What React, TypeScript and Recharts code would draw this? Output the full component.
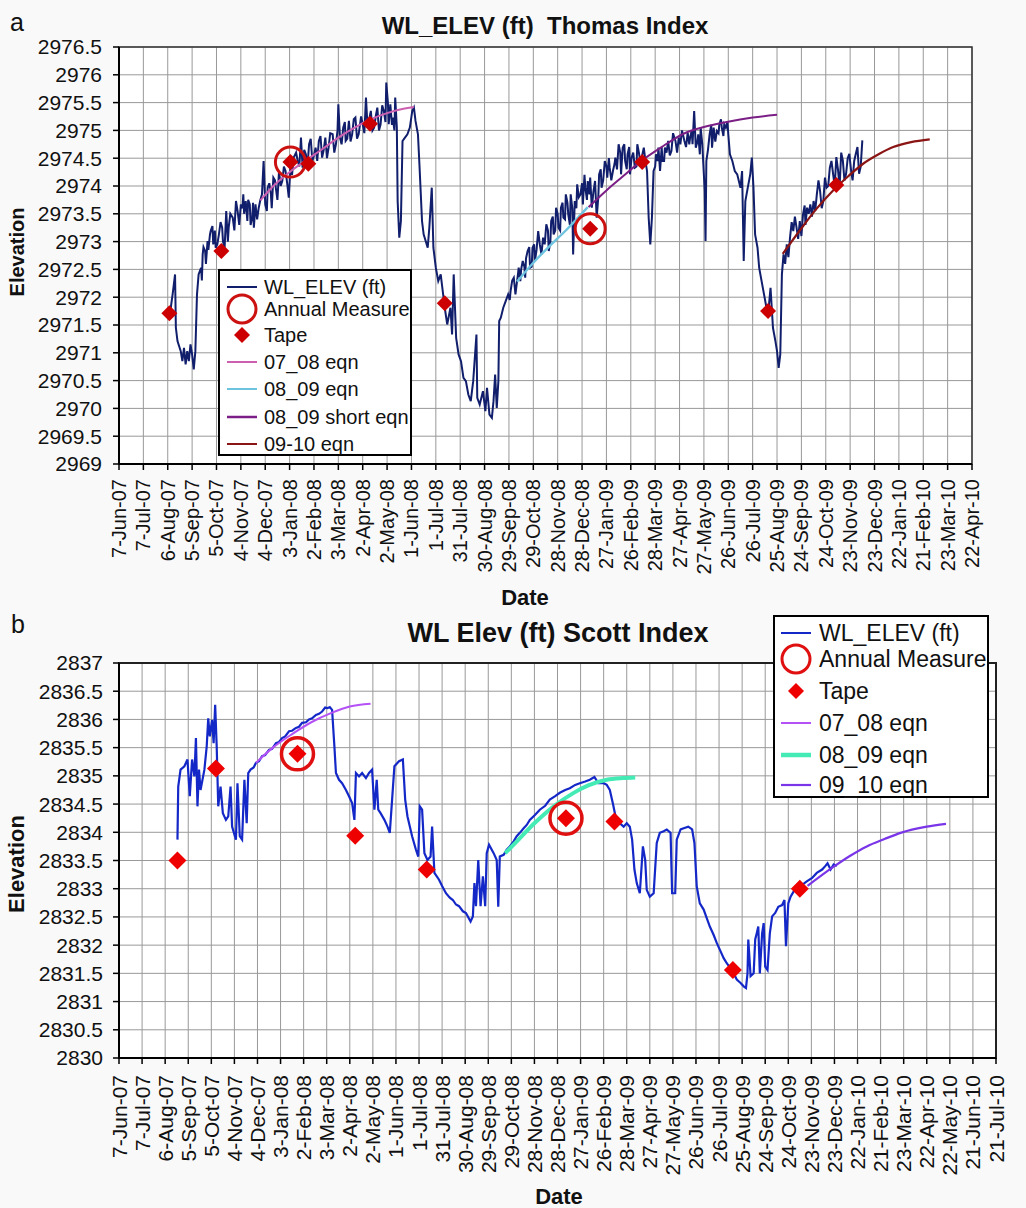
import React from "react";
import { ComposedChart, Line, Scatter, XAxis, YAxis, CartesianGrid, ReferenceArea } from "recharts";

const FONT = "'Liberation Sans', Arial, sans-serif";

// x = days since 7-Jun-07, ticks every 30 days (Excel date axis)
const dateLabels = [
  "7-Jun-07", "7-Jul-07", "6-Aug-07", "5-Sep-07", "5-Oct-07", "4-Nov-07", "4-Dec-07", "3-Jan-08",
  "2-Feb-08", "3-Mar-08", "2-Apr-08", "2-May-08", "1-Jun-08", "1-Jul-08", "31-Jul-08", "30-Aug-08",
  "29-Sep-08", "29-Oct-08", "28-Nov-08", "28-Dec-08", "27-Jan-09", "26-Feb-09", "28-Mar-09", "27-Apr-09",
  "27-May-09", "26-Jun-09", "26-Jul-09", "25-Aug-09", "24-Sep-09", "24-Oct-09", "23-Nov-09", "23-Dec-09",
  "22-Jan-10", "21-Feb-10", "23-Mar-10", "22-Apr-10", "22-May-10", "21-Jun-10", "21-Jul-10",
];
const dayTicksA = dateLabels.slice(0, 36).map((_, i) => i * 30);
const dayTicksB = dateLabels.map((_, i) => i * 30);
const elevTicksA = [2969, 2969.5, 2970, 2970.5, 2971, 2971.5, 2972, 2972.5, 2973, 2973.5, 2974, 2974.5, 2975, 2975.5, 2976, 2976.5];
const elevTicksB = [2830, 2830.5, 2831, 2831.5, 2832, 2832.5, 2833, 2833.5, 2834, 2834.5, 2835, 2835.5, 2836, 2836.5, 2837];

// ---- (a) Thomas Index ----
const thomasLevel: [number, number][] = [
  [62, 2971.63], [66, 2972.05], [69, 2972.41], [70, 2971.45], [72, 2971.21], [76, 2971.03], [78, 2970.85], [80, 2971.09],
  [82, 2970.79], [84, 2971.03], [86, 2970.85], [88, 2971.15], [90, 2970.97], [92, 2970.7], [94, 2971.03], [96, 2972.05],
  [98, 2972.41], [101, 2972.53], [103, 2972.77], [106, 2972.83], [109, 2973.01], [112, 2973.13], [115, 2973.28], [117, 2973.01],
  [119, 2972.89], [123, 2973.13], [127, 2973.25], [130, 2972.89], [132, 2973.55], [135, 2973.25], [140, 2973.43], [144, 2973.73],
  [146, 2973.55], [150, 2973.67], [153, 2973.85], [156, 2973.73], [158, 2973.37], [161, 2973.67], [164, 2973.43], [166, 2973.25],
  [168, 2973.67], [172, 2973.61], [176, 2973.85], [178, 2974.45], [180, 2973.67], [183, 2973.97], [187, 2973.85], [190, 2974.15],
  [193, 2973.97], [197, 2974.27], [201, 2974.09], [205, 2974.27], [209, 2973.79], [211, 2974.33], [215, 2974.51], [220, 2974.45],
  [224, 2974.87], [226, 2974.33], [230, 2974.57], [234, 2974.75], [238, 2974.45], [242, 2974.69], [246, 2974.81], [250, 2974.51],
  [254, 2974.87], [258, 2974.69], [263, 2974.93], [267, 2974.75], [270, 2975.47], [272, 2974.87], [276, 2975.05], [279, 2974.81],
  [283, 2975.17], [287, 2974.93], [291, 2975.23], [295, 2974.93], [300, 2975.11], [304, 2975.59], [306, 2975.05], [310, 2975.35],
  [314, 2975.05], [318, 2975.41], [322, 2975.11], [326, 2975.35], [329, 2975.86], [332, 2975.11], [334, 2975.47], [337, 2975.23],
  [340, 2975.59], [342, 2975.05], [343, 2973.73], [345, 2973.07], [347, 2973.37], [349, 2974.81], [352, 2974.87], [355, 2974.93],
  [358, 2975.05], [361, 2975.35], [363, 2975.41], [365, 2975.17], [368, 2974.93], [370, 2974.33], [373, 2973.37], [375, 2973.13],
  [380, 2972.89], [382, 2973.25], [385, 2973.97], [387, 2972.89], [390, 2972.53], [393, 2972.29], [396, 2972.41], [399, 2972.05],
  [401, 2971.81], [404, 2971.51], [408, 2971.81], [410, 2971.33], [412, 2972.41], [415, 2971.27], [418, 2970.97], [421, 2970.85],
  [424, 2970.55], [427, 2970.49], [430, 2970.25], [433, 2970.13], [436, 2970.49], [440, 2971.33], [441, 2970.19], [444, 2970.07],
  [448, 2970.31], [451, 2969.95], [453, 2970.37], [456, 2969.89], [459, 2969.83], [461, 2970.13], [463, 2970.61], [465, 2970.01],
  [467, 2970.49], [468, 2971.57], [470, 2971.63], [473, 2971.81], [476, 2971.93], [479, 2972.05], [482, 2972.11], [486, 2972.35],
  [489, 2972.17], [492, 2972.53], [494, 2972.29], [497, 2972.65], [500, 2972.35], [503, 2972.83], [506, 2972.53], [509, 2972.89],
  [512, 2972.65], [516, 2973.19], [520, 2972.77], [522, 2973.07], [526, 2973.31], [529, 2972.83], [532, 2973.37], [535, 2973.13],
  [538, 2973.61], [541, 2973.25], [544, 2973.61], [547, 2973.43], [550, 2973.85], [553, 2973.49], [556, 2973.85], [559, 2972.77],
  [561, 2973.73], [564, 2974.03], [568, 2973.85], [571, 2973.67], [574, 2973.97], [577, 2974.09], [580, 2974.15], [582, 2973.61],
  [586, 2974.09], [588, 2973.43], [591, 2974.21], [594, 2973.97], [598, 2974.45], [601, 2974.15], [604, 2974.33], [608, 2974.27],
  [611, 2974.51], [615, 2974.75], [618, 2974.21], [620, 2974.69], [623, 2974.45], [626, 2974.57], [629, 2974.21], [631, 2974.51],
  [635, 2974.33], [638, 2974.75], [642, 2974.39], [646, 2974.69], [650, 2974.27], [652, 2973.43], [654, 2972.95], [656, 2973.43],
  [658, 2974.27], [661, 2974.57], [664, 2974.69], [666, 2974.27], [669, 2974.45], [672, 2974.69], [676, 2974.81], [680, 2974.63],
  [685, 2974.81], [689, 2974.87], [691, 2974.75], [696, 2974.81], [700, 2974.96], [703, 2974.87], [706, 2974.75], [708, 2975.35],
  [710, 2974.69], [713, 2974.93], [715, 2974.57], [718, 2974.75], [721, 2973.91], [722, 2973.01], [723, 2974.45], [727, 2974.93],
  [730, 2974.69], [732, 2975.05], [736, 2974.99], [739, 2975.11], [742, 2975.05], [745, 2975.11], [747, 2975.05], [750, 2974.93],
  [752, 2974.57], [755, 2974.45], [758, 2974.27], [761, 2974.21], [765, 2973.97], [767, 2974.27], [769, 2972.65], [771, 2973.73],
  [774, 2973.97], [777, 2974.21], [779, 2974.51], [781, 2973.97], [783, 2973.13], [786, 2972.89], [788, 2972.53], [791, 2972.29],
  [794, 2972.05], [797, 2971.81], [799, 2971.69], [802, 2972.17], [805, 2971.45], [808, 2971.21], [810, 2971.03], [812, 2970.73],
  [814, 2970.97], [816, 2972.41], [818, 2972.77], [822, 2972.95], [824, 2972.72], [826, 2973.07], [828, 2973.35], [830, 2973.19],
  [834, 2973.25], [836, 2973.05], [838, 2973.37], [842, 2973.49], [845, 2973.3], [847, 2973.61], [851, 2973.67], [853, 2973.45],
  [855, 2973.73], [859, 2973.85], [863, 2973.91], [867, 2973.73], [871, 2973.97], [875, 2974.33], [879, 2974.22], [883, 2974.52],
  [887, 2973.98], [891, 2974.46], [895, 2974.22], [899, 2974.58], [903, 2974.1], [907, 2974.58], [911, 2974.22], [915, 2974.82],
];
const thomasFuzz: [number, number][] = [
  [102, 2972.3], [104, 2972.9], [107, 2972.6], [110, 2972.85], [113, 2973.2], [116, 2972.95], [118, 2973.2], [121, 2972.95],
  [125, 2973.35], [128, 2973.0], [134, 2973.0], [137, 2973.5], [142, 2973.2], [148, 2973.3], [152, 2973.6], [154, 2973.5],
  [159, 2973.75], [162, 2973.3], [165, 2973.7], [170, 2973.4], [174, 2973.75], [182, 2973.55], [185, 2974.05], [188, 2973.6],
  [192, 2974.1], [195, 2973.75], [199, 2974.0], [203, 2974.35], [207, 2974.05], [213, 2974.2], [218, 2974.6], [222, 2974.35],
  [228, 2974.65], [232, 2974.35], [236, 2974.85], [240, 2974.55], [244, 2974.45], [248, 2974.9], [252, 2974.65], [256, 2974.5],
  [260, 2974.95], [265, 2974.6], [269, 2975.0], [274, 2974.75], [278, 2975.15], [281, 2974.85], [285, 2974.8], [289, 2975.2],
  [293, 2974.85], [298, 2975.25], [302, 2974.95], [308, 2975.2], [312, 2975.0], [316, 2975.25], [320, 2975.0], [324, 2975.45],
  [328, 2975.15], [331, 2975.5], [336, 2975.1], [339, 2975.0], [481, 2971.95], [484, 2972.3], [488, 2972.05], [491, 2972.4],
  [495, 2972.5], [499, 2972.55], [501, 2972.7], [505, 2972.9], [508, 2972.55], [511, 2972.95], [514, 2972.85], [518, 2972.95],
  [524, 2972.95], [528, 2973.2], [531, 2973.0], [534, 2973.45], [537, 2973.2], [540, 2973.5], [543, 2973.2], [546, 2973.7],
  [549, 2973.4], [552, 2973.7], [555, 2973.3], [558, 2973.6], [563, 2973.6], [566, 2973.8], [570, 2974.05], [573, 2974.2],
  [576, 2973.75], [579, 2973.85], [584, 2973.9], [590, 2973.8], [593, 2974.3], [596, 2974.1], [600, 2974.35], [603, 2974.5],
  [606, 2974.1], [610, 2974.4], [613, 2974.3], [617, 2974.6], [622, 2974.75], [625, 2974.3], [628, 2974.7], [633, 2974.6],
  [637, 2974.35], [640, 2974.6], [644, 2974.55], [648, 2974.45], [660, 2974.35], [663, 2974.45], [668, 2974.7], [671, 2974.45],
  [674, 2974.6], [678, 2974.55], [682, 2974.95], [687, 2974.6], [693, 2975.0], [698, 2974.7], [702, 2974.75], [705, 2975.0],
  [712, 2974.8], [716, 2975.05], [725, 2974.65], [729, 2975.1], [734, 2974.8], [738, 2974.95], [741, 2975.2], [744, 2974.9],
  [749, 2975.15], [820, 2972.6], [832, 2973.45], [840, 2973.1], [844, 2973.65], [849, 2973.5], [857, 2973.55], [861, 2974.1],
  [865, 2973.6], [869, 2974.15], [873, 2974.0], [877, 2974.45], [881, 2974.0], [885, 2974.3], [889, 2974.6], [893, 2974.1],
  [897, 2974.5], [901, 2974.3], [905, 2974.45], [909, 2974.7], [913, 2974.35],
];
const thomasTape: [number, number][] = [
  [62, 2971.71], [126, 2972.83], [211, 2974.43], [233, 2974.4], [309, 2975.12],
  [401, 2971.89], [580, 2973.23], [644, 2974.43], [799, 2971.75], [883, 2974.02],
];
const thomasAnnual: [number, number][] = [[211, 2974.43], [580, 2973.23]];
const thomasEq0708: [number, number][] = [
  [174, 2973.74], [190, 2974.0], [210, 2974.25], [230, 2974.46], [250, 2974.66], [270, 2974.87],
  [290, 2975.05], [310, 2975.2], [330, 2975.31], [350, 2975.39], [363, 2975.42],
];
const thomasEq0809: [number, number][] = [[490, 2972.28], [510, 2972.62], [530, 2972.92], [550, 2973.2], [577, 2973.62]];
const thomasEq0809short: [number, number][] = [
  [578, 2973.62], [600, 2973.92], [620, 2974.17], [641, 2974.43], [670, 2974.72], [695, 2974.94],
  [720, 2975.06], [748, 2975.15], [780, 2975.23], [810, 2975.28],
];
const thomasEq0910: [number, number][] = [
  [817, 2972.78], [838, 2973.2], [858, 2973.58], [879, 2973.92], [898, 2974.18], [916, 2974.4],
  [935, 2974.57], [953, 2974.7], [975, 2974.79], [998, 2974.84],
];

// ---- (b) Scott Index ----
const scottLevel: [number, number][] = [
  [76, 2833.87], [77, 2834.81], [80, 2835.11], [85, 2835.17], [89, 2835.29], [92, 2834.64], [95, 2835.29], [98, 2834.99],
  [100, 2835.67], [102, 2834.46], [104, 2835.11], [106, 2834.75], [111, 2835.11], [114, 2835.52], [116, 2836.02], [118, 2835.7],
  [121, 2835.99], [123, 2835.58], [125, 2836.26], [127, 2835.52], [129, 2834.46], [132, 2834.81], [135, 2834.34], [139, 2834.22],
  [142, 2834.28], [145, 2834.81], [147, 2834.1], [152, 2833.87], [154, 2834.87], [157, 2833.93], [160, 2833.87], [163, 2834.93],
  [166, 2834.16], [168, 2835.05], [171, 2835.11], [175, 2835.15], [178, 2835.23], [182, 2835.26], [186, 2835.35], [190, 2835.37],
  [195, 2835.46], [199, 2835.48], [204, 2835.58], [208, 2835.6], [212, 2835.67], [216, 2835.7], [221, 2835.79], [225, 2835.8],
  [230, 2835.85], [234, 2835.87], [238, 2835.94], [243, 2835.95], [247, 2836.0], [251, 2836.02], [256, 2836.08], [260, 2836.1],
  [264, 2836.14], [268, 2836.21], [271, 2836.2], [274, 2836.22], [277, 2836.17],
  [280, 2835.52], [282, 2835.05], [286, 2834.93], [290, 2834.87], [295, 2834.75], [299, 2834.64], [303, 2834.52], [306, 2834.22],
  [308, 2835.05], [312, 2834.99], [316, 2835.05], [321, 2834.96], [325, 2835.05], [329, 2835.11], [332, 2834.4], [335, 2834.93],
  [337, 2834.4], [340, 2834.34], [345, 2834.22], [349, 2834.1], [352, 2833.99], [355, 2834.58], [358, 2835.17], [364, 2835.26],
  [369, 2835.29], [372, 2834.58], [375, 2834.28], [381, 2833.93], [386, 2833.69], [389, 2833.57], [391, 2834.46], [394, 2834.4],
  [397, 2833.63], [401, 2833.51], [405, 2833.57], [407, 2834.1], [410, 2833.28], [416, 2833.16], [420, 2833.05], [425, 2832.92],
  [430, 2832.84], [434, 2832.8], [438, 2832.72], [442, 2832.69], [447, 2832.6], [451, 2832.57], [457, 2832.42], [460, 2832.51],
  [462, 2833.1], [464, 2832.69], [467, 2833.51], [470, 2832.69],
  [473, 2833.22], [476, 2832.69], [478, 2833.63], [481, 2833.78], [487, 2833.63], [491, 2833.51], [493, 2832.68], [495, 2833.57],
  [500, 2833.6], [504, 2833.69], [508, 2833.75], [513, 2833.84], [517, 2833.93], [521, 2833.99], [526, 2834.07], [530, 2834.13],
  [534, 2834.22], [541, 2834.31], [547, 2834.4], [554, 2834.47], [560, 2834.58], [567, 2834.64], [573, 2834.7], [580, 2834.75],
  [586, 2834.78], [593, 2834.84], [599, 2834.87], [606, 2834.9], [612, 2834.93], [618, 2834.98], [623, 2834.87], [630, 2834.87],
  [634, 2834.84], [638, 2834.75], [642, 2834.51], [645, 2834.31], [651, 2834.16], [656, 2834.1], [660, 2834.16], [664, 2834.1],
  [667, 2833.87], [670, 2833.34], [673, 2833.1], [677, 2832.92], [681, 2833.75], [684, 2833.51], [686, 2832.98], [690, 2832.86],
  [695, 2832.92], [699, 2833.81], [703, 2833.99], [708, 2834.02], [712, 2834.05], [717, 2833.99], [719, 2832.92], [723, 2832.92],
  [725, 2833.87], [730, 2834.05], [734, 2834.07], [740, 2834.1], [745, 2834.05], [748, 2833.81], [751, 2833.04], [755, 2832.74],
  [760, 2832.63], [764, 2832.48], [768, 2832.33], [773, 2832.18], [777, 2832.04], [782, 2831.89], [786, 2831.77], [790, 2831.68],
  [795, 2831.59], [799, 2831.5], [803, 2831.39], [808, 2831.33], [812, 2831.27], [815, 2831.24], [817, 2831.5], [818, 2832.1],
  [821, 2831.45], [825, 2831.5], [827, 2832.1], [829, 2832.21], [831, 2832.33], [833, 2831.5], [836, 2832.21], [838, 2832.39],
  [840, 2831.62], [843, 2831.56], [846, 2832.21], [849, 2832.51], [853, 2832.57], [857, 2832.68], [862, 2832.71], [865, 2832.8],
  [867, 2831.98], [870, 2832.74], [873, 2832.86], [877, 2832.95], [881, 2833.01], [888, 2833.07], [894, 2833.13], [901, 2833.19],
  [907, 2833.28], [914, 2833.34], [918, 2833.4], [921, 2833.45], [925, 2833.34], [929, 2833.43], [933, 2833.4],
];
const scottTape: [number, number][] = [
  [76, 2833.5], [126, 2835.13], [232, 2835.39], [307, 2833.94], [400, 2833.34],
  [581, 2834.25], [644, 2834.19], [798, 2831.56], [885, 2833.0],
];
const scottAnnual: [number, number][] = [[232, 2835.39], [581, 2834.25]];
const scottEq0708: [number, number][] = [[178, 2835.23], [200, 2835.5], [225, 2835.74], [250, 2835.95], [277, 2836.12], [300, 2836.23], [327, 2836.28]];
const scottEq0809: [number, number][] = [
  [502, 2833.63], [520, 2833.88], [540, 2834.16], [569, 2834.5], [590, 2834.69], [610, 2834.83], [634, 2834.93], [655, 2834.96], [671, 2834.97],
];
const scottEq0910: [number, number][] = [
  [895, 2833.05], [929, 2833.39], [950, 2833.58], [972, 2833.75], [995, 2833.88], [1016, 2833.99], [1050, 2834.1], [1075, 2834.15],
];

const pts = (a: [number, number][]) => a.map(([d, v]) => ({ d, v }));
const merged = (...lists: [number, number][][]) => pts(lists.flat().sort((p, q) => p[0] - q[0]));

function DateTick(props: any) {
  const { x, y, payload, size } = props;
  const label = dateLabels[Math.round(payload.value / 30)];
  return (
    <text x={x} y={y} transform={`rotate(-90 ${x} ${y})`} textAnchor="end" dominantBaseline="central"
      fontSize={size} fill="#111" fontFamily={FONT}>{label}</text>
  );
}

const diamond = (color: string, r: number) => (p: any) => (
  <polygon points={`${p.cx},${p.cy - r} ${p.cx + r},${p.cy} ${p.cx},${p.cy + r} ${p.cx - r},${p.cy}`} fill={color} />
);
const ring = (color: string, r: number, w: number) => (p: any) => (
  <circle cx={p.cx} cy={p.cy} r={r} fill="none" stroke={color} strokeWidth={w} />
);

type Entry = { label: string; kind: "line" | "ring" | "diamond"; color: string; w?: number; y: number };

function LegendBox({ left, top, width, height, entries, fontSize, textLeft, iconX }: {
  left: number; top: number; width: number; height: number; entries: Entry[]; fontSize: number; textLeft: number; iconX: number;
}) {
  return (
    <div style={{ position: "absolute", left, top, width, height, border: "2px solid #000", background: "#fff", boxSizing: "border-box" }}>
      {entries.map((e) => (
        <div key={e.label} style={{ position: "absolute", left: 0, top: e.y - 16, height: 32, width: "100%" }}>
          <svg width={textLeft} height={32} style={{ position: "absolute", left: 0, top: 0 }}>
            {e.kind === "line" && <line x1={iconX - 15} x2={iconX + 15} y1={16} y2={16} stroke={e.color} strokeWidth={e.w ?? 2} />}
            {e.kind === "ring" && <circle cx={iconX} cy={16} r={14} fill="none" stroke={e.color} strokeWidth={3} />}
            {e.kind === "diamond" && <polygon points={`${iconX},8 ${iconX + 8},16 ${iconX},24 ${iconX - 8},16`} fill={e.color} />}
          </svg>
          <span style={{ position: "absolute", left: textLeft, top: 16, transform: "translateY(-50%)", fontSize, fontFamily: FONT, color: "#111", whiteSpace: "nowrap", lineHeight: 1 }}>{e.label}</span>
        </div>
      ))}
    </div>
  );
}

const text = (s: React.CSSProperties) => ({ position: "absolute" as const, fontFamily: FONT, color: "#111", whiteSpace: "nowrap" as const, transform: "translate(-50%, -50%)", lineHeight: 1, ...s });

const A = { trace: "#111e6c", tape: "#cc0000", ring: "#cc1111", e0708: "#cc5fb0", e0809: "#6ec3df", e0809s: "#7b1f86", e0910: "#8b1414" };
const B = { trace: "#1428c8", tape: "#ee0000", ring: "#e01010", e0708: "#b552f5", e0809: "#45ebb5", e0910: "#7a35e8" };

export default function App() {
  return (
    <div style={{ position: "absolute", left: 0, top: 0, width: 1026, height: 1208, background: "#f9f9f9", overflow: "hidden" }}>
      {/* panel a */}
      <div style={{ position: "absolute", left: 0, top: 0 }}>
        <ComposedChart width={1026} height={620} margin={{ top: 47, right: 54, bottom: 0, left: 0 }}>
          <CartesianGrid stroke="#999" fill="#fff" horizontal vertical />
          <XAxis dataKey="d" type="number" domain={[0, 1050]} ticks={dayTicksA} interval={0} allowDataOverflow height={156}
            tickSize={6} tickMargin={9} axisLine={{ stroke: "#000", strokeWidth: 2 }} tickLine={{ stroke: "#000", strokeWidth: 1.5 }}
            tick={(p: any) => <DateTick {...p} size={20} />} />
          <YAxis type="number" domain={[2969, 2976.5]} ticks={elevTicksA} interval={0} allowDataOverflow width={119}
            tickSize={6} tickMargin={11} axisLine={{ stroke: "#000", strokeWidth: 2 }} tickLine={{ stroke: "#000", strokeWidth: 1.5 }}
            tick={{ fontSize: 21, fill: "#111", fontFamily: FONT }} />
          <ReferenceArea x1={0} x2={1050} y1={2969} y2={2976.5} fill="none" stroke="#333" strokeWidth={1.5} />
          <Line data={merged(thomasLevel, thomasFuzz)} dataKey="v" type="linear" stroke={A.trace} strokeWidth={2} dot={false} isAnimationActive={false} />
          <Line data={pts(thomasEq0708)} dataKey="v" type="monotone" stroke={A.e0708} strokeWidth={2} dot={false} isAnimationActive={false} />
          <Line data={pts(thomasEq0809)} dataKey="v" type="monotone" stroke={A.e0809} strokeWidth={2.4} dot={false} isAnimationActive={false} />
          <Line data={pts(thomasEq0809short)} dataKey="v" type="monotone" stroke={A.e0809s} strokeWidth={2} dot={false} isAnimationActive={false} />
          <Line data={pts(thomasEq0910)} dataKey="v" type="monotone" stroke={A.e0910} strokeWidth={2.2} dot={false} isAnimationActive={false} />
          <Scatter data={pts(thomasAnnual)} dataKey="v" shape={ring(A.ring, 15, 3)} isAnimationActive={false} />
          <Scatter data={pts(thomasTape)} dataKey="v" shape={diamond(A.tape, 8)} isAnimationActive={false} />
        </ComposedChart>
      </div>
      <div style={text({ left: 17, top: 22, fontSize: 25 })}>a</div>
      <div style={text({ left: 545, top: 26, fontSize: 24, fontWeight: 700 })}>WL_ELEV (ft)&nbsp; Thomas Index</div>
      <div style={text({ left: 17, top: 252, fontSize: 20, fontWeight: 700, transform: "translate(-50%, -50%) rotate(-90deg)" })}>Elevation</div>
      <div style={text({ left: 525, top: 598, fontSize: 22, fontWeight: 700 })}>Date</div>
      <LegendBox left={218} top={269} width={194} height={187} fontSize={20} textLeft={44} iconX={22} entries={[
        { label: "WL_ELEV (ft)", kind: "line", color: A.trace, y: 16 },
        { label: "Annual Measure", kind: "ring", color: A.ring, y: 38 },
        { label: "Tape", kind: "diamond", color: A.tape, y: 64 },
        { label: "07_08 eqn", kind: "line", color: A.e0708, y: 91 },
        { label: "08_09 eqn", kind: "line", color: A.e0809, y: 118 },
        { label: "08_09 short eqn", kind: "line", color: A.e0809s, w: 2.5, y: 146 },
        { label: "09-10 eqn", kind: "line", color: A.e0910, y: 173 },
      ]} />

      {/* panel b */}
      <div style={{ position: "absolute", left: 0, top: 600 }}>
        <ComposedChart width={1026} height={608} margin={{ top: 63, right: 30, bottom: 0, left: 0 }}>
          <CartesianGrid stroke="#999" fill="#fff" horizontal vertical />
          <XAxis dataKey="d" type="number" domain={[0, 1140]} ticks={dayTicksB} interval={0} allowDataOverflow height={150}
            tickSize={6} tickMargin={11} axisLine={{ stroke: "#000", strokeWidth: 2 }} tickLine={{ stroke: "#000", strokeWidth: 1.5 }}
            tick={(p: any) => <DateTick {...p} size={21} />} />
          <YAxis type="number" domain={[2830, 2837]} ticks={elevTicksB} interval={0} allowDataOverflow width={119}
            tickSize={6} tickMargin={10} axisLine={{ stroke: "#000", strokeWidth: 2 }} tickLine={{ stroke: "#000", strokeWidth: 1.5 }}
            tick={{ fontSize: 21, fill: "#111", fontFamily: FONT }} />
          <ReferenceArea x1={0} x2={1140} y1={2830} y2={2837} fill="none" stroke="#222" strokeWidth={2} />
          <Line data={pts(scottLevel)} dataKey="v" type="linear" stroke={B.trace} strokeWidth={2.2} dot={false} isAnimationActive={false} />
          <Line data={pts(scottEq0708)} dataKey="v" type="monotone" stroke={B.e0708} strokeWidth={2} dot={false} isAnimationActive={false} />
          <Line data={pts(scottEq0809)} dataKey="v" type="monotone" stroke={B.e0809} strokeWidth={4} dot={false} isAnimationActive={false} />
          <Line data={pts(scottEq0910)} dataKey="v" type="monotone" stroke={B.e0910} strokeWidth={2.2} dot={false} isAnimationActive={false} />
          <Scatter data={pts(scottAnnual)} dataKey="v" shape={ring(B.ring, 16, 3.5)} isAnimationActive={false} />
          <Scatter data={pts(scottTape)} dataKey="v" shape={diamond(B.tape, 9)} isAnimationActive={false} />
        </ComposedChart>
      </div>
      <div style={text({ left: 18, top: 624, fontSize: 25 })}>b</div>
      <div style={text({ left: 558, top: 633, fontSize: 27, fontWeight: 700 })}>WL Elev (ft) Scott Index</div>
      <div style={text({ left: 17, top: 864, fontSize: 22, fontWeight: 700, transform: "translate(-50%, -50%) rotate(-90deg)" })}>Elevation</div>
      <div style={text({ left: 559, top: 1197, fontSize: 22, fontWeight: 700 })}>Date</div>
      <LegendBox left={773} top={615} width={216} height={183} fontSize={23} textLeft={44} iconX={21} entries={[
        { label: "WL_ELEV (ft)", kind: "line", color: B.trace, y: 16 },
        { label: "Annual Measure", kind: "ring", color: B.ring, y: 42 },
        { label: "Tape", kind: "diamond", color: B.tape, y: 74 },
        { label: "07_08 eqn", kind: "line", color: B.e0708, y: 106 },
        { label: "08_09 eqn", kind: "line", color: B.e0809, w: 4.5, y: 138 },
        { label: "09_10 eqn", kind: "line", color: B.e0910, w: 2.2, y: 168 },
      ]} />
    </div>
  );
}
